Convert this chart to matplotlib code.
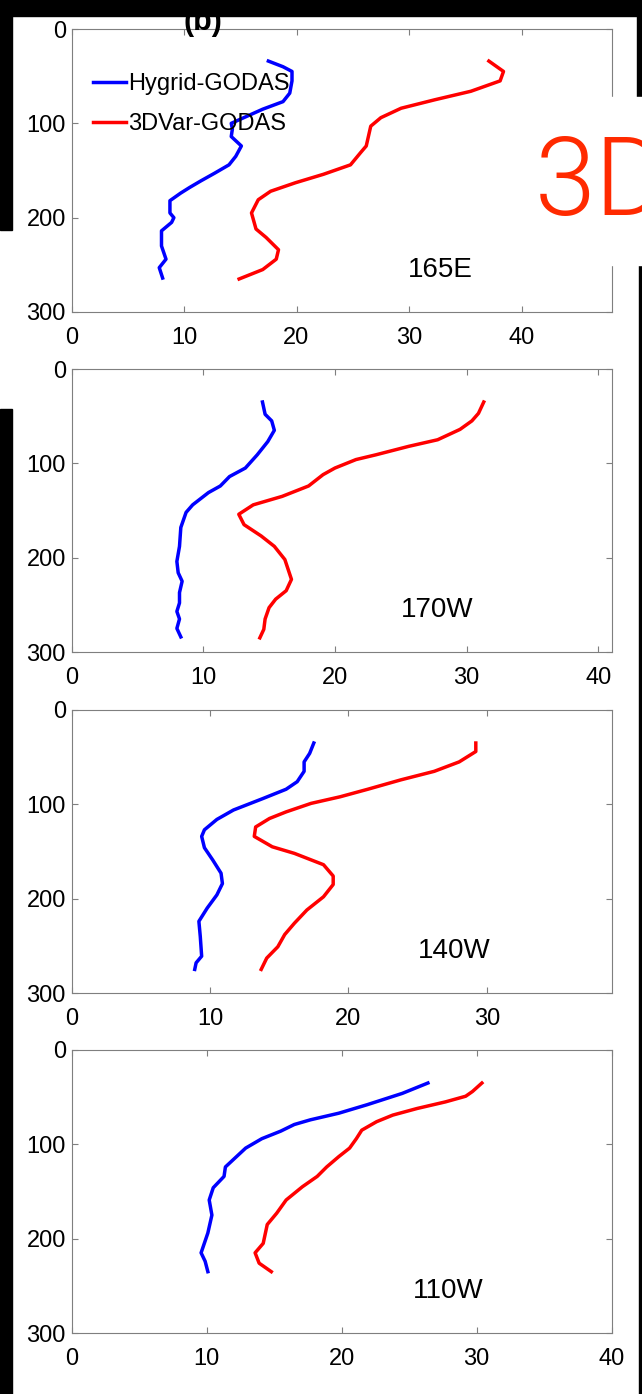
import numpy as np
import matplotlib
matplotlib.use('Agg')
import matplotlib.pyplot as plt
from matplotlib.patches import Rectangle

plt.rcParams['font.family'] = ['Liberation Sans', 'DejaVu Sans']

# depth (m) and value profiles for the four stations
stations = ['165E', '170W', '140W', '110W']
xlims = [48, 41, 39, 40]
xticks = [[0, 10, 20, 30, 40], [0, 10, 20, 30, 40], [0, 10, 20, 30], [0, 10, 20, 30, 40]]

# 165E
hy1_depth = [34, 40, 45, 55, 68, 77, 85, 93, 100, 106, 114, 124, 135, 144, 153, 161, 168, 174, 182, 195, 200, 205, 214, 230, 244, 253, 264]
hy1_val = [17.5, 18.8, 19.6, 19.6, 19.4, 18.8, 17.0, 15.5, 14.2, 14.3, 14.2, 15.1, 14.6, 14.0, 12.7, 11.5, 10.5, 9.7, 8.75, 8.75, 9.1, 8.9, 8.0, 8.0, 8.4, 7.8, 8.1]
v3_1_depth = [34, 45, 55, 66, 75, 84, 94, 103, 124, 131, 144, 154, 163, 172, 181, 195, 212, 221, 234, 244, 255, 265]
v3_1_val = [37.1, 38.4, 38.1, 35.5, 32.3, 29.3, 27.5, 26.6, 26.2, 25.7, 24.8, 22.4, 19.9, 17.7, 16.6, 16.0, 16.4, 17.3, 18.4, 18.2, 17.0, 14.9]

# 170W
hy2_depth = [35, 48, 55, 65, 77, 91, 105, 114, 124, 131, 144, 152, 168, 188, 204, 216, 225, 237, 248, 257, 265, 275, 284]
hy2_val = [14.5, 14.7, 15.2, 15.4, 14.9, 14.1, 13.2, 12.0, 11.3, 10.4, 9.2, 8.7, 8.3, 8.2, 8.0, 8.1, 8.4, 8.2, 8.2, 8.0, 8.2, 8.0, 8.3]
v3_2_depth = [35, 47, 55, 64, 75, 82, 91, 96, 105, 112, 124, 135, 144, 154, 165, 177, 188, 202, 223, 235, 244, 253, 265, 276, 285]
v3_2_val = [31.3, 30.9, 30.4, 29.5, 27.8, 25.6, 23.1, 21.6, 20.0, 19.1, 18.0, 16.0, 13.8, 12.7, 13.1, 14.4, 15.4, 16.2, 16.7, 16.3, 15.5, 15.0, 14.7, 14.6, 14.3]

# 140W
hy3_depth = [35, 46, 55, 65, 76, 84, 94, 106, 116, 127, 134, 146, 159, 173, 184, 196, 210, 224, 240, 261, 268, 275]
hy3_val = [17.5, 17.2, 16.8, 16.8, 16.3, 15.5, 13.8, 11.7, 10.5, 9.6, 9.4, 9.6, 10.2, 10.8, 10.9, 10.5, 9.8, 9.2, 9.3, 9.4, 9.0, 8.9]
v3_3_depth = [35, 44, 55, 65, 74, 84, 92, 99, 108, 115, 124, 134, 145, 152, 164, 176, 185, 198, 212, 226, 238, 251, 263, 275]
v3_3_val = [29.2, 29.2, 28.0, 26.2, 23.8, 21.4, 19.4, 17.3, 15.5, 14.3, 13.3, 13.2, 14.5, 16.1, 18.2, 18.9, 18.9, 18.2, 17.0, 16.1, 15.4, 14.9, 14.1, 13.7]

# 110W
hy4_depth = [35, 46, 58, 67, 74, 79, 86, 94, 104, 124, 134, 146, 159, 175, 194, 215, 224, 235]
hy4_val = [26.4, 24.5, 21.9, 19.8, 17.7, 16.5, 15.5, 14.1, 12.9, 11.4, 11.3, 10.5, 10.2, 10.4, 10.1, 9.6, 9.9, 10.1]
v3_4_depth = [35, 44, 49, 55, 62, 69, 76, 85, 94, 104, 113, 124, 134, 145, 159, 173, 185, 205, 215, 226, 235]
v3_4_val = [30.4, 29.7, 29.2, 27.7, 25.6, 23.8, 22.6, 21.5, 21.1, 20.6, 19.8, 18.9, 18.2, 17.1, 15.9, 15.2, 14.5, 14.2, 13.6, 13.9, 14.8]

hygrid = [(hy1_val, hy1_depth), (hy2_val, hy2_depth), (hy3_val, hy3_depth), (hy4_val, hy4_depth)]
var3d = [(v3_1_val, v3_1_depth), (v3_2_val, v3_2_depth), (v3_3_val, v3_3_depth), (v3_4_val, v3_4_depth)]
label_x = [32.8, 27.8, 27.65, 27.9]

W, H = 642, 1394
fig = plt.figure(figsize=(W / 100, H / 100), dpi=100)
fig.patch.set_facecolor('white')

tops = [29, 369, 710, 1050]
ax_h = 283
left, right = 71.5, 611.5

def px_rect(x0, y0, x1, y1, **kw):
    # rectangle given in pixels from the top-left corner
    r = Rectangle((x0 / W, 1 - y1 / H), (x1 - x0) / W, (y1 - y0) / H,
                  transform=fig.transFigure, **kw)
    fig.add_artist(r)
    return r

for i in range(4):
    ax = fig.add_axes([left / W, 1 - (tops[i] + ax_h) / H, (right - left) / W, ax_h / H])
    xb, yb = hygrid[i]
    xr, yr = var3d[i]
    ax.plot(xb, yb, color='#0000ff', lw=2.5, label='Hygrid-GODAS')
    ax.plot(xr, yr, color='#ff0000', lw=2.5, label='3DVar-GODAS')
    ax.set_xlim(0, xlims[i])
    ax.set_ylim(300, 0)
    ax.set_xticks(xticks[i])
    ax.set_yticks([0, 100, 200, 300])
    for s in ax.spines.values():
        s.set_color('#7f7f7f')
        s.set_linewidth(0.8)
    ax.tick_params(direction='in', length=4, width=0.8, color='#7f7f7f',
                   top=True, right=True, labelsize=17)
    ax.tick_params(axis='x', pad=11)
    ax.tick_params(axis='y', pad=4)
    ax.text(label_x[i], 255, stations[i], fontsize=20, ha='center', va='center')
    if i == 0:
        ax.legend(loc='upper left', bbox_to_anchor=(0.04, 0.845), frameon=False,
                  fontsize=17, handlelength=1.4, handletextpad=0.1,
                  labelspacing=0.78, borderpad=0, borderaxespad=0)

# panel letter, partly hidden under the top band
fig.text(203 / W, 1 - 30 / H, '(b)', fontsize=22, fontweight='bold',
         ha='center', va='baseline')

# dark borders around the page
px_rect(0, 0, W, 16, color='black', zorder=5)
px_rect(0, 0, 12, 230, color='black', zorder=5)
px_rect(0, 409, 12, H, color='black', zorder=5)
px_rect(637, 0, W, 97, color='black', zorder=5)
px_rect(639, 265, W, H, color='black', zorder=5)

# white label box with large red text
px_rect(505, 97, W, 265, color='white', zorder=6)
fig.text(535 / W, 1 - 215 / H, '3D', fontsize=79, color='#ff2a00',
         family=['Roboto', 'DejaVu Sans'], fontweight=300,
         ha='left', va='baseline', zorder=7)

fig.savefig('out.png', dpi=100, facecolor='white')
